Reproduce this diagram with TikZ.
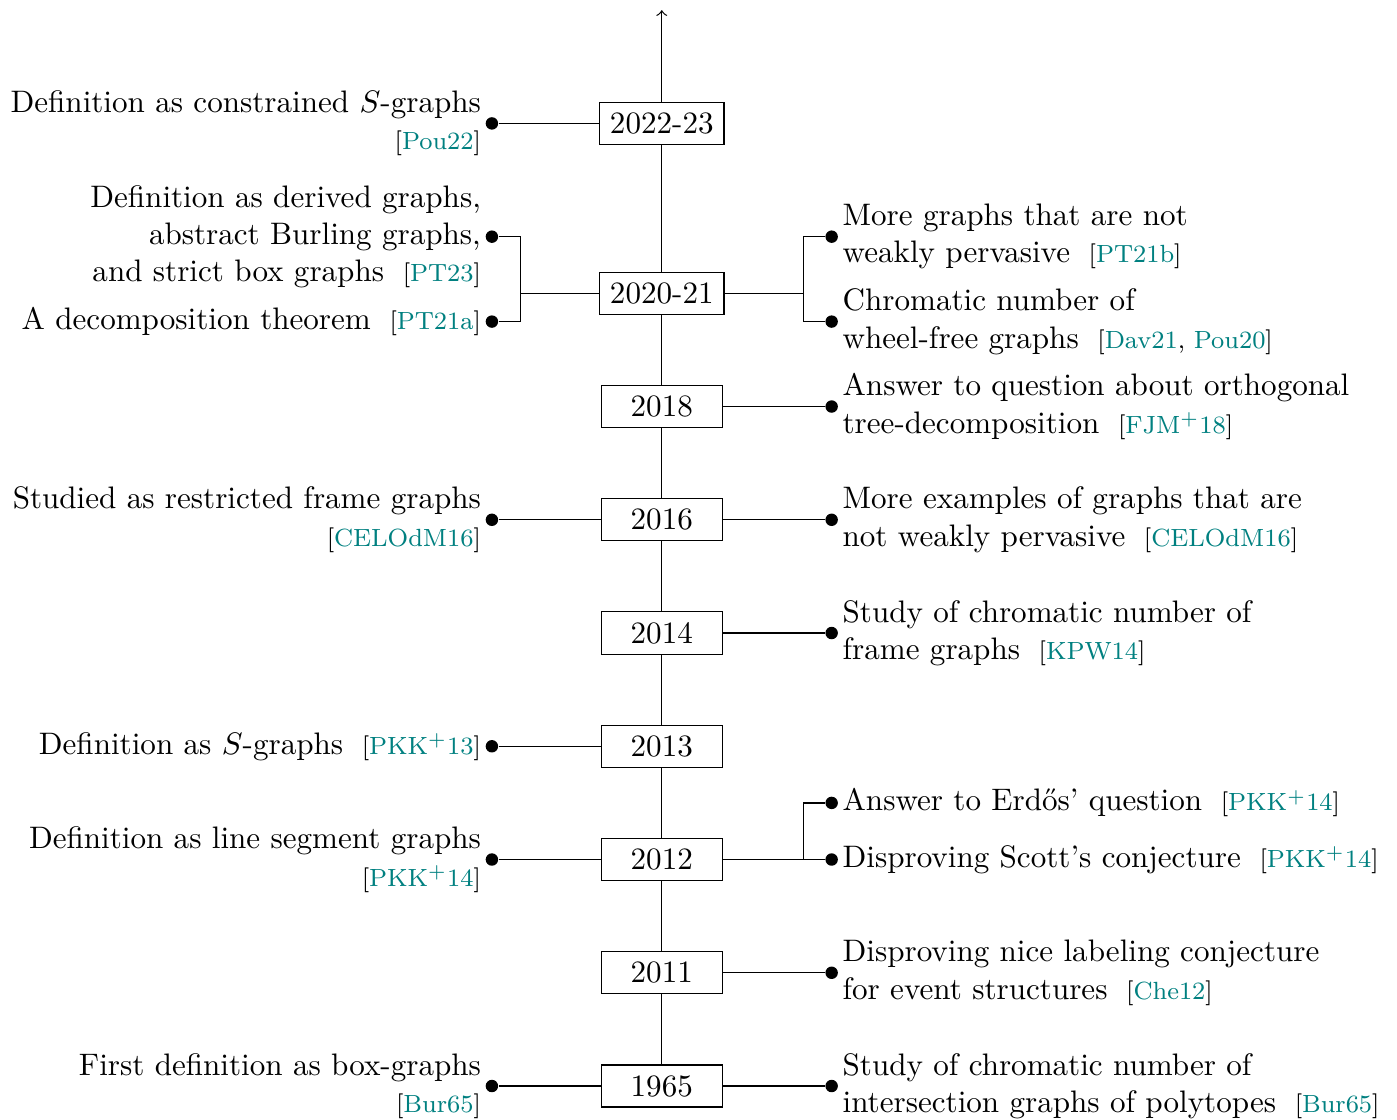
\documentclass[tikz,border=0pt]{standalone}
\usepackage{tikz}
\usetikzlibrary{arrows,positioning}

\newcommand{\evref}[1]{\hspace{0.6em}{\footnotesize[#1]}}
\newcommand{\evkey}[1]{\textcolor{teal}{#1}}

\begin{document}
\begin{tikzpicture}[x=1cm, y=1.28cm,
	year/.style={draw, minimum width=1.37cm},
	dot/.style={circle, fill, inner sep=0pt, minimum size=4pt},
	evl/.style={anchor=east, align=right},
	evr/.style={anchor=west, align=left}]
	\useasboundingbox (-7.48,-0.30) rectangle (8.31,9.59);

	\node[year] (y1965) at (0, 0) {1965};
	\node[year] (y2011) at (0, 1) {2011};
	\node[year] (y2012) at (0, 2) {2012};
	\node[year] (y2013) at (0, 3) {2013};
	\node[year] (y2014) at (0, 4) {2014};
	\node[year] (y2016) at (0, 5) {2016};
	\node[year] (y2018) at (0, 6) {2018};
	\node[year] (y2020) at (0, 7) {2020-21};
	\node[year] (y2022) at (0, 8.5) {2022-23};
	\coordinate (top) at (0, 9.5);

	\draw (y1965) -- (y2011);
	\draw (y2011) -- (y2012);
	\draw (y2012) -- (y2013);
	\draw (y2013) -- (y2014);
	\draw (y2014) -- (y2016);
	\draw (y2016) -- (y2018);
	\draw (y2018) -- (y2020);
	\draw (y2020) -- (y2022);
	\draw [->] (y2022) -- (top);

	% left side
	\node[dot] (l2022) at (-1.92, 8.5) {};
	\node[evl] (tl2022) at (l2022) {Definition as constrained $S$-graphs\\ \evref{\evkey{Pou22}}};
	\draw (y2022) -- (l2022);

	\coordinate (jl2020) at (-1.6, 7);
	\node[dot] (l2020a) at (-1.92, 7.5) {};
	\node[dot] (l2020b) at (-1.92, 6.75) {};
	\node[evl] (tl2020a) at (l2020a) {Definition as derived graphs,\\ abstract Burling graphs,\\ and strict box graphs\evref{\evkey{PT23}}};
	\node[evl] (tl2020b) at (l2020b) {A decomposition theorem\evref{\evkey{PT21a}}};
	\draw (y2020) -- (jl2020) |- (l2020a);
	\draw (jl2020) |- (l2020b);

	\node[dot] (l2016) at (-1.92, 5) {};
	\node[evl] (tl2016) at (l2016) {Studied as restricted frame graphs\\ \evref{\evkey{CELOdM16}}};
	\draw (y2016) -- (l2016);

	\node[dot] (l2013) at (-1.92, 3) {};
	\node[evl] (tl2013) at (l2013) {Definition as $S$-graphs\evref{\evkey{PKK$^+$13}}};
	\draw (y2013) -- (l2013);

	\node[dot] (l2012) at (-1.92, 2) {};
	\node[evl] (tl2012) at (l2012) {Definition as line segment graphs\\ \evref{\evkey{PKK$^+$14}}};
	\draw (y2012) -- (l2012);

	\node[dot] (l1965) at (-1.92, 0) {};
	\node[evl] (tl1965) at (l1965) {First definition as box-graphs\\ \evref{\evkey{Bur65}}};
	\draw (y1965) -- (l1965);

	% right side
	\coordinate (jr2020) at (1.6, 7);
	\node[dot] (r2020a) at (1.92, 7.5) {};
	\node[dot] (r2020b) at (1.92, 6.75) {};
	\node[evr] (tr2020a) at (r2020a) {More graphs that are not\\ weakly pervasive\evref{\evkey{PT21b}}};
	\node[evr] (tr2020b) at (r2020b) {Chromatic number of\\ wheel-free graphs\evref{\evkey{Dav21}, \evkey{Pou20}}};
	\draw (y2020) -- (jr2020) |- (r2020a);
	\draw (jr2020) |- (r2020b);

	\node[dot] (r2018) at (1.92, 6) {};
	\node[evr] (tr2018) at (r2018) {Answer to question about orthogonal\\ tree-decomposition\evref{\evkey{FJM$^+$18}}};
	\draw (y2018) -- (r2018);

	\node[dot] (r2016) at (1.92, 5) {};
	\node[evr] (tr2016) at (r2016) {More examples of graphs that are\\ not weakly pervasive\evref{\evkey{CELOdM16}}};
	\draw (y2016) -- (r2016);

	\node[dot] (r2014) at (1.92, 4) {};
	\node[evr] (tr2014) at (r2014) {Study of chromatic number of\\ frame graphs\evref{\evkey{KPW14}}};
	\draw (y2014) -- (r2014);

	\coordinate (jr2012) at (1.6, 2);
	\node[dot] (r2012a) at (1.92, 2.5) {};
	\node[dot] (r2012b) at (1.92, 2) {};
	\node[evr] (tr2012a) at (r2012a) {Answer to Erd\H{o}s' question\evref{\evkey{PKK$^+$14}}};
	\node[evr] (tr2012b) at (r2012b) {Disproving Scott's conjecture\evref{\evkey{PKK$^+$14}}};
	\draw (y2012) -- (jr2012) |- (r2012a);
	\draw (jr2012) -- (r2012b);

	\node[dot] (r2011) at (1.92, 1) {};
	\node[evr] (tr2011) at (r2011) {Disproving nice labeling conjecture\\ for event structures\evref{\evkey{Che12}}};
	\draw (y2011) -- (r2011);

	\node[dot] (r1965) at (1.92, 0) {};
	\node[evr] (tr1965) at (r1965) {Study of chromatic number of\\ intersection graphs of polytopes\evref{\evkey{Bur65}}};
	\draw (y1965) -- (r1965);
\end{tikzpicture}
\end{document}
